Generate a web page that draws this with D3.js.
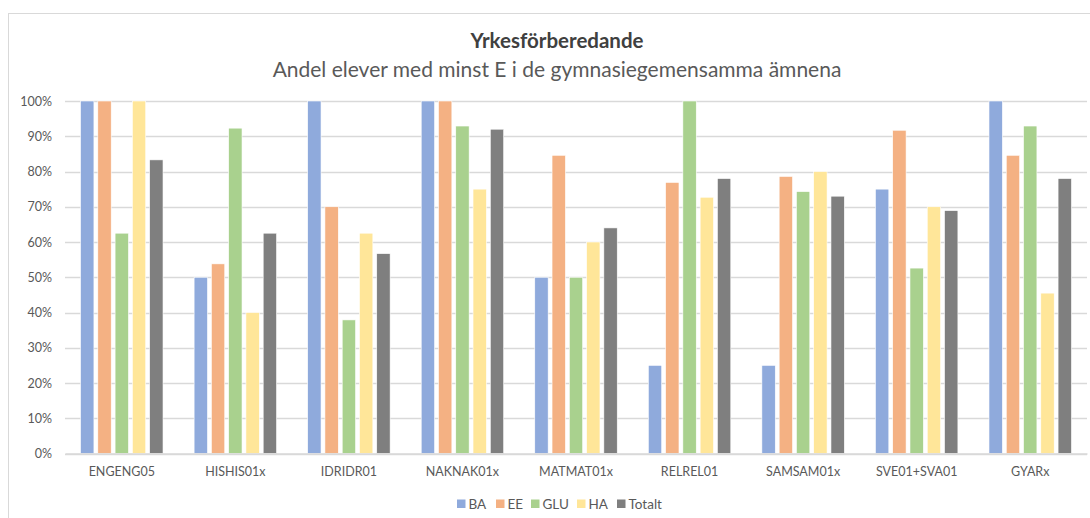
<!DOCTYPE html>
<html>
<head>
<meta charset="utf-8">
<script src="https://cdn.jsdelivr.net/npm/d3@7"></script>
<style>
  html, body { margin: 0; padding: 0; background: #fff; }
  svg { display: block; }
  text { font-family: Lato, "Open Sans", sans-serif; }
</style>
</head>
<body>
<svg id="chart" width="1090" height="518"></svg>
<script>
const categories = ["ENGENG05", "HISHIS01x", "IDRIDR01", "NAKNAK01x", "MATMAT01x", "RELREL01", "SAMSAM01x", "SVE01+SVA01", "GYARx"];
const seriesNames = ["BA", "EE", "GLU", "HA", "Totalt"];
const BA     = [100, 50, 100, 100, 50, 25, 25, 75, 100];
const EE     = [100, 53.8, 70, 100, 84.6, 76.9, 78.6, 91.7, 84.6];
const GLU    = [62.5, 92.3, 37.9, 92.9, 50, 100, 74.3, 52.6, 92.9];
const HA     = [100, 40, 62.5, 75, 60, 72.7, 80, 70, 45.5];
const Totalt = [83.3, 62.5, 56.7, 92, 64, 78, 73, 68.9, 78];
const yTicks = [0, 10, 20, 30, 40, 50, 60, 70, 80, 90, 100];
const colors = ["#8FAADC", "#F4B183", "#A9D18E", "#FFE699", "#7F7F7F"];
const title = "Yrkesförberedande";
const subtitle = "Andel elever med minst E i de gymnasiegemensamma ämnena";

const seriesValues = [BA, EE, GLU, HA, Totalt];
const svg = d3.select("#chart");

// chart frame
svg.append("rect").attr("x", 8.5).attr("y", 13.5).attr("width", 1100).attr("height", 520)
  .attr("fill", "#fff").attr("stroke", "#D9D9D9").attr("stroke-width", 1);

const plot = { left: 65, right: 1087, top: 101, bottom: 453.5 };

const x0 = d3.scaleBand().domain(categories).range([plot.left, plot.right]).paddingInner(0).paddingOuter(0);
const x1 = d3.scaleBand().domain(seriesNames).range([0, x0.bandwidth()]).paddingInner(0.225).paddingOuter(0.9);
const y = d3.scaleLinear().domain([0, 100]).range([plot.bottom, plot.top]);

// gridlines
svg.append("g").selectAll("line").data(yTicks).join("line")
  .attr("x1", plot.left).attr("x2", plot.right)
  .attr("y1", d => Math.round(y(d)) + 0.5).attr("y2", d => Math.round(y(d)) + 0.5)
  .attr("stroke", "#D9D9D9").attr("stroke-width", 1.3);

// y axis labels
const yAxis = d3.axisLeft(y).tickValues(yTicks).tickFormat(d => d + "%").tickSize(0).tickPadding(0);
const yg = svg.append("g").attr("transform", `translate(${plot.left - 13},0)`).call(yAxis);
yg.select(".domain").remove();
yg.selectAll("text").attr("fill", "#595959").style("font-size", "12.5px").style("font-family", "Lato, sans-serif");

// bars
const groups = svg.append("g").selectAll("g").data(categories).join("g")
  .attr("transform", d => `translate(${x0(d)},0)`);
groups.selectAll("rect").data((c, ci) => seriesNames.map((s, si) => ({ s, si, v: seriesValues[si][ci] })))
  .join("rect")
  .attr("x", d => x1(d.s))
  .attr("width", x1.bandwidth())
  .attr("y", d => y(d.v))
  .attr("height", d => y(0) - y(d.v))
  .attr("fill", d => colors[d.si])
  .attr("stroke", "#fff").attr("stroke-width", 0.6);

// x axis
const xAxis = d3.axisBottom(x0).tickSize(0).tickPadding(14);
const xg = svg.append("g").attr("transform", `translate(0,${plot.bottom})`).call(xAxis);
xg.select(".domain").attr("stroke", "#D9D9D9").attr("stroke-width", 1.3);
xg.selectAll("text").attr("fill", "#595959").style("font-size", "12.5px").style("font-family", "Lato, sans-serif");

// titles
svg.append("text").attr("x", 557).attr("y", 48).attr("text-anchor", "middle")
  .attr("fill", "#404040").style("font-size", "20.5px").style("font-weight", "bold").text(title);
svg.append("text").attr("x", 557).attr("y", 77).attr("text-anchor", "middle")
  .attr("fill", "#595959").style("font-size", "21px").text(subtitle);

// legend
const legendX = [457, 496, 531, 577, 617];
const lg = svg.append("g").selectAll("g").data(seriesNames).join("g")
  .attr("transform", (d, i) => `translate(${legendX[i]},504)`);
lg.append("rect").attr("x", 0).attr("y", -4.5).attr("width", 8.5).attr("height", 8.5)
  .attr("fill", (d, i) => colors[i]);
lg.append("text").attr("x", 11.5).attr("y", 0).attr("dy", "0.35em")
  .attr("fill", "#595959").style("font-size", "13.5px").text(d => d);
</script>
</body>
</html>
